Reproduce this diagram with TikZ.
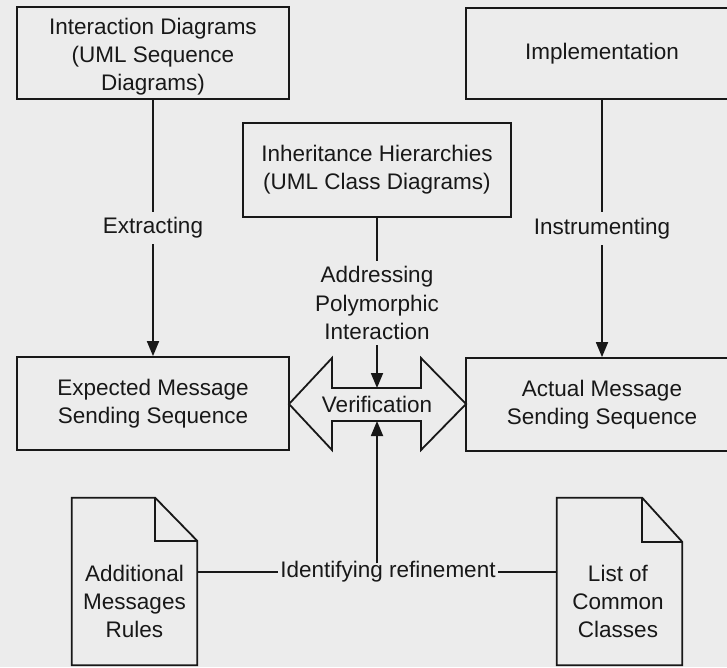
\documentclass[tikz,border=0pt]{standalone}
\usepackage{fontspec}
\setmainfont{Liberation Sans}
\usetikzlibrary{arrows.meta}
\definecolor{bg}{RGB}{236,236,236}
\definecolor{ink}{RGB}{24,24,24}
\begin{document}
\begin{tikzpicture}[x=1pt,y=-1pt,
  every node/.style={font=\fontsize{22.5}{28}\selectfont, text=ink, align=center},
  box/.style={draw=ink, line width=1.8pt, inner sep=0pt},
  lbl/.style={fill=bg, inner sep=6pt},
  conn/.style={draw=ink, line width=1.8pt},
  arr/.style={conn, -{Triangle[width=12pt,length=15pt]}},
  docframe/.style={minimum width=125pt, minimum height=167pt, inner sep=0pt}
]
\useasboundingbox (0,0) rectangle (727,667);
\fill[bg] (0,0) rectangle (727,667);
\clip (0,0) rectangle (727,667);

% boxes
\node[box, minimum width=272pt, minimum height=92pt] (inter) at (153,53) {\rule{0pt}{24pt}Interaction Diagrams\\(UML Sequence\\Diagrams)};
\node[box, minimum width=272pt, minimum height=91pt] (impl) at (602,53.5) {Implementation};
\node[box, minimum width=268pt, minimum height=94pt] (inh) at (377,170) {Inheritance Hierarchies\\(UML Class Diagrams)};
\node[box, minimum width=272pt, minimum height=93pt] (exp) at (153,403.5) {Expected Message\\Sending Sequence};
\node[box, minimum width=272pt, minimum height=93pt] (act) at (602,404.5) {Actual Message\\Sending Sequence};

% verification double arrow
\draw[conn, line join=miter] (289,404) -- (332,358) -- (332,388) -- (421,388) -- (421,358) -- (466,404)
  -- (421,450) -- (421,421) -- (332,421) -- (332,450) -- cycle;
\coordinate (vtop) at (377,388);
\coordinate (vbot) at (377,421);
\node (verif) at (377,404.5) {Verification};

% vertical connectors
\draw[arr] (inter) -- node[lbl]{Extracting} (exp);
\draw[arr] (impl) -- node[lbl]{Instrumenting} (act);
\draw[arr] (inh) -- node[lbl]{Addressing\\Polymorphic\\Interaction} (vtop);

% documents
\node[docframe] (adoc) at (134.5,581.5) {};
\node[docframe] (ldoc) at (619.5,581.5) {};
\draw[conn, line join=miter] (adoc.south west) -- (adoc.north west) -- ([xshift=-42pt]adoc.north east)
  -- ([yshift=-43pt]adoc.north east) -- (adoc.south east) -- cycle;
\draw[conn] ([xshift=-42pt]adoc.north east) |- ([yshift=-43pt]adoc.north east);
\draw[conn, line join=miter] (ldoc.south west) -- (ldoc.north west) -- ([xshift=-40pt]ldoc.north east)
  -- ([yshift=-44pt]ldoc.north east) -- (ldoc.south east) -- cycle;
\draw[conn] ([xshift=-40pt]ldoc.north east) |- ([yshift=-44pt]ldoc.north east);
\node (addl) at (134.5,601) {Additional\\Messages\\Rules};
\node (list) at (618,601) {List of\\Common\\Classes};

% identifying refinement
\node[inner sep=2pt] (ident) at (388,572) {Identifying refinement};
\draw[conn] (adoc.east |- ident) -- (ident.west);
\draw[conn] (ident.east) -- (ldoc.west |- ident);
\draw[arr] ([yshift=-4pt]ident.north -| vbot) -- (vbot);
\end{tikzpicture}
\end{document}
